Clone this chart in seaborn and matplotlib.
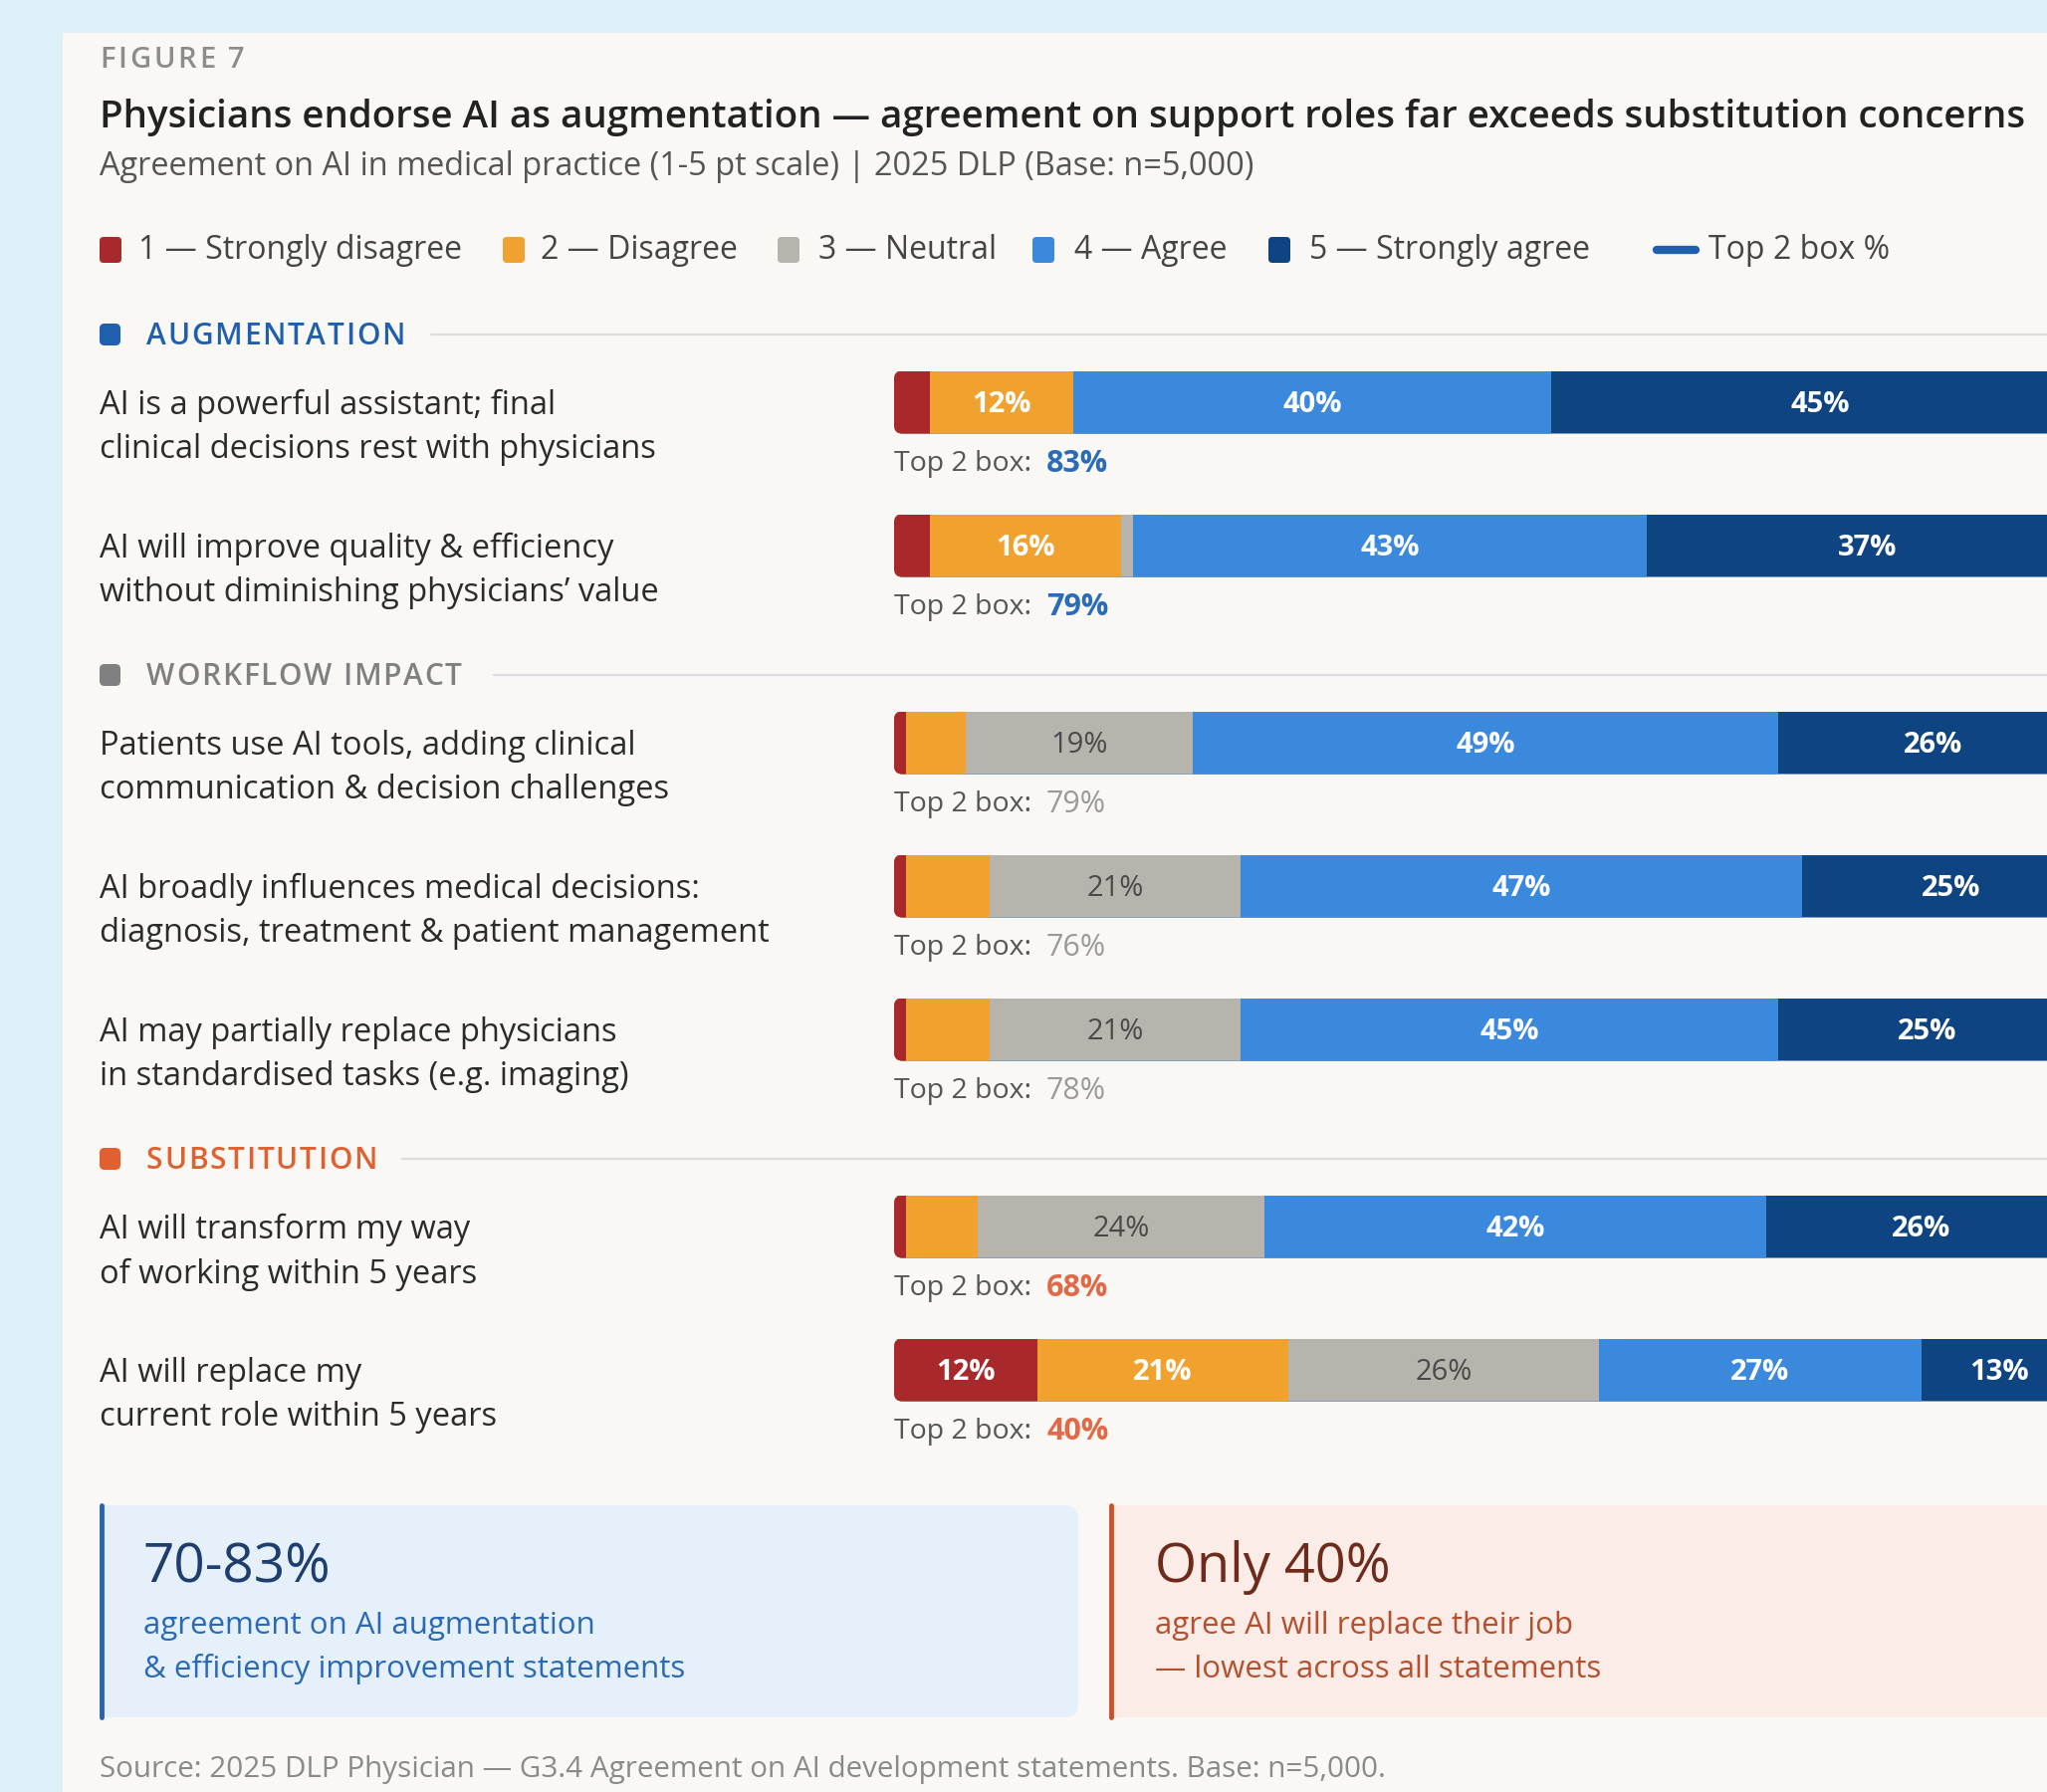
import numpy as np
import pandas as pd
import matplotlib
matplotlib.use("Agg")
import matplotlib.pyplot as plt
import seaborn as sns
from matplotlib.patches import FancyBboxPatch, Rectangle

# ---------------- data ----------------
statements = [
    "AI is a powerful assistant; final\nclinical decisions rest with physicians",
    "AI will improve quality & efficiency\nwithout diminishing physicians\u2019 value",
    "Patients use AI tools, adding clinical\ncommunication & decision challenges",
    "AI broadly influences medical decisions:\ndiagnosis, treatment & patient management",
    "AI may partially replace physicians\nin standardised tasks (e.g. imaging)",
    "AI will transform my way\nof working within 5 years",
    "AI will replace my\ncurrent role within 5 years",
]
sections = ["AUGMENTATION", "WORKFLOW IMPACT", "SUBSTITUTION"]
section_of_row = [0, 0, 1, 1, 1, 2, 2]
levels = ["1 \u2014 Strongly disagree", "2 \u2014 Disagree", "3 \u2014 Neutral",
          "4 \u2014 Agree", "5 \u2014 Strongly agree"]
strongly_disagree = [3, 3, 1, 1, 1, 1, 12]
disagree = [12, 16, 5, 7, 7, 6, 21]
neutral = [0, 1, 19, 21, 21, 24, 26]
agree = [40, 43, 49, 47, 45, 42, 27]
strongly_agree = [45, 37, 26, 25, 25, 26, 13]
top2 = [83, 79, 79, 76, 78, 68, 40]

card_left_big = "70-83%"
card_left_text = ["agreement on AI augmentation", "& efficiency improvement statements"]
card_right_big = "Only 40%"
card_right_text = ["agree AI will replace their job", "\u2014 lowest across all statements"]

title = "Physicians endorse AI as augmentation \u2014 agreement on support roles far exceeds substitution concerns"
subtitle = "Agreement on AI in medical practice (1-5 pt scale) | 2025 DLP (Base: n=5,000)"
source = "Source: 2025 DLP Physician \u2014 G3.4 Agreement on AI development statements. Base: n=5,000."

# ---------------- style ----------------
sns.set_theme(style="white")
plt.rcParams["font.family"] = ["Open Sans", "DejaVu Sans"]

seg_colors = ["#a8282c", "#f0a12e", "#b6b4ad", "#3a89dd", "#0d4481"]
sec_colors = ["#1f5fad", "#808080", "#e0602f"]
top2_colors = ["#2b6cb8", "#9a9a9a", "#e06a48"]
txt_dark = "#2b2b2b"

W, H = 2056, 1800
fig = plt.figure(figsize=(W / 100, H / 100), dpi=100)
fig.patch.set_facecolor("#ddeff8")
renderer = fig.canvas.get_renderer()

bg = fig.add_axes([0, 0, 1, 1])
bg.set_xlim(0, W)
bg.set_ylim(H, 0)
bg.axis("off")
bg.add_patch(Rectangle((63, 33), W, H, facecolor="#f9f8f5", edgecolor="none", zorder=0))


def spaced_text(x, y, s, spacing, size, **kw):
    """Draw text with extra letter spacing (bg axes: 1 data unit = 1 px)."""
    for ch in s:
        if ch == " ":
            x += size * 0.36 + spacing
            continue
        t = bg.text(x, y, ch, fontsize=size, va="center", ha="left", **kw)
        bb = t.get_window_extent(renderer=renderer)
        x += bb.width + spacing
    return x


# header
spaced_text(100, 60, "FIGURE 7", 2.8, 21, color="#8c8c8c", fontweight="semibold")
bg.text(100, 118, title, fontsize=27.7, color="#222222", fontweight="semibold", va="center", ha="left")
bg.text(100, 168, subtitle, fontsize=23.4, color="#555555", va="center", ha="left")

# legend
leg_sq_x = [100, 505, 781, 1037, 1274]
leg_txt_x = [139, 543, 822, 1079, 1315]
ly = 251
for k in range(5):
    bg.add_patch(FancyBboxPatch((leg_sq_x[k], ly - 13), 22, 26,
                                boxstyle="round,pad=0,rounding_size=4",
                                facecolor=seg_colors[k], edgecolor="none"))
    bg.text(leg_txt_x[k], ly, levels[k], fontsize=23, color="#444444", va="center", ha="left")
bg.plot([1664, 1703], [ly, ly], color="#1f5fad", lw=6, solid_capstyle="round")
bg.text(1716, ly, "Top 2 box %", fontsize=23, color="#444444", va="center", ha="left")

# row layout
row_y = []
y = 404
for i, s in enumerate(section_of_row):
    if i > 0:
        y += 144 + (54 if s != section_of_row[i - 1] else 0)
    row_y.append(y)
BAR_H = 63

# section headers
line_start = [433, 496, 404]
for s in range(3):
    first = section_of_row.index(s)
    hy = row_y[first] - 68
    bg.add_patch(FancyBboxPatch((100, hy - 11), 21, 22, boxstyle="round,pad=0,rounding_size=5",
                                facecolor=sec_colors[s], edgecolor="none"))
    spaced_text(147, hy + 2, sections[s], 1.7, 21.5, color=sec_colors[s], fontweight="semibold")
    bg.plot([line_start[s], W], [hy, hy], color="#dcdcdc", lw=1.6)

# row labels + top2
for i, lab in enumerate(statements):
    l1, l2 = lab.split("\n")
    bg.text(100, row_y[i] + 3, l1, fontsize=23.5, color=txt_dark, va="center", ha="left")
    bg.text(100, row_y[i] + 48, l2, fontsize=23.5, color=txt_dark, va="center", ha="left")
    ty = row_y[i] + 62
    bg.text(898, ty, "Top 2 box:", fontsize=20.5, color="#555555", va="center", ha="left")
    s = section_of_row[i]
    bg.text(1051, ty, f"{top2[i]}%", fontsize=22, color=top2_colors[s],
            fontweight="bold" if s != 1 else "normal", va="center", ha="left")

# ---------------- bars (seaborn) ----------------
ax = fig.add_axes([898 / W, 0, 1200 / W, 1])
ax.patch.set_alpha(0)
vals = np.array([strongly_disagree, disagree, neutral, agree, strongly_agree], dtype=float)
cum = np.cumsum(vals, axis=0)
for k in range(4, -1, -1):
    df = pd.DataFrame({"pos": row_y, "cum": cum[k]})
    sns.barplot(data=df, x="cum", y="pos", orient="y", native_scale=True, color=seg_colors[k],
                saturation=1, width=BAR_H / 144, errorbar=None, linewidth=0, ax=ax)
ax.set_xlim(0, 100)
ax.set_ylim(H, 0)
ax.axis("off")

clips = []
for yy in row_y:
    c = FancyBboxPatch((0, yy - BAR_H / 2), 110, BAR_H,
                       boxstyle="round,pad=0,rounding_size=0.7", mutation_aspect=12,
                       transform=ax.transData, facecolor="none", edgecolor="none")
    clips.append(c)
for p in ax.patches:
    yc = p.get_y() + p.get_height() / 2
    idx = int(np.argmin([abs(yc - r) for r in row_y]))
    p.set_clip_path(clips[idx])

for i in range(len(statements)):
    left = 0
    for k in range(5):
        v = vals[k, i]
        if v >= 10:
            cx = left + v / 2
            if k == 2:
                ax.text(cx, row_y[i] + 2, f"{int(v)}%", fontsize=21, color="#4a4a4a",
                        ha="center", va="center", zorder=5)
            else:
                ax.text(cx, row_y[i] + 2, f"{int(v)}%", fontsize=21, color="white",
                        fontweight="bold", ha="center", va="center", zorder=5)
        left += v

# ---------------- cards ----------------
bg.add_patch(FancyBboxPatch((100, 1512), 983, 213, boxstyle="round,pad=0,rounding_size=14",
                            facecolor="#e5f0fa", edgecolor="none", zorder=1))
bg.add_patch(Rectangle((100, 1512), 20, 213, facecolor="#e5f0fa", edgecolor="none", zorder=1))
bg.plot([101.5, 101.5], [1512, 1725], color="#2a64a8", lw=3.5, zorder=2)
bg.add_patch(Rectangle((1114, 1512), 1000, 213, facecolor="#fbece7", edgecolor="none", zorder=1))
bg.plot([1115.5, 1115.5], [1512, 1725], color="#c8532b", lw=3.5, zorder=2)

bg.text(144, 1575, card_left_big, fontsize=39.5, color="#1d3e6e", va="center", ha="left", zorder=3)
bg.text(144, 1633, card_left_text[0], fontsize=22.5, color="#2a6ab5", va="center", ha="left", zorder=3)
bg.text(144, 1677, card_left_text[1], fontsize=22.5, color="#2a6ab5", va="center", ha="left", zorder=3)
bg.text(1160, 1575, card_right_big, fontsize=39, color="#6e2a1a", va="center", ha="left", zorder=3)
bg.text(1160, 1633, card_right_text[0], fontsize=22.5, color="#b4502e", va="center", ha="left", zorder=3)
bg.text(1160, 1677, card_right_text[1], fontsize=22.5, color="#b4502e", va="center", ha="left", zorder=3)

bg.text(100, 1777, source, fontsize=21.3, color="#8a8a8a", va="center", ha="left")

fig.savefig("out.png", dpi=100, facecolor=fig.get_facecolor())
